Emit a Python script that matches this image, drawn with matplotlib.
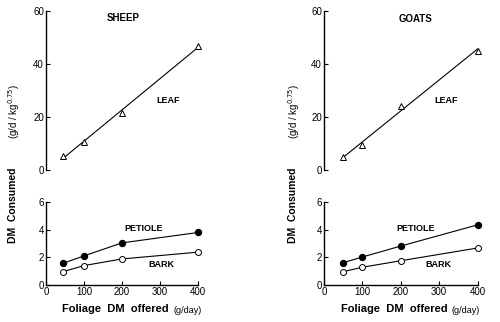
import numpy as np
import matplotlib
matplotlib.use("Agg")
import matplotlib.pyplot as plt

plt.rcParams['font.family'] = ['Liberation Sans', 'DejaVu Sans']

# foliage offered (g/day)
sheep_x = [45, 100, 200, 400]
goat_x = [50, 100, 200, 400]

# DM consumed (g/d / kg^0.75)
sheep_leaf = [5.3, 10.6, 21.5, 46.8]
sheep_petiole = [1.57, 2.1, 3.04, 3.79]
sheep_bark = [0.96, 1.4, 1.88, 2.37]

goat_leaf = [4.8, 9.3, 24.2, 45.0]
goat_petiole = [1.61, 2.02, 2.81, 4.34]
goat_bark = [0.96, 1.28, 1.75, 2.67]

fig = plt.figure(figsize=(5, 3.22), dpi=100)


def style_axis(ax, bottom_spine):
    ax.spines['top'].set_visible(False)
    ax.spines['right'].set_visible(False)
    ax.spines['bottom'].set_visible(bottom_spine)
    for s in ax.spines.values():
        s.set_linewidth(1.0)
    ax.tick_params(direction='in', length=3, width=0.8, labelsize=7, pad=1.5)
    ax.set_xlim(0, 400)


def draw_panel(left, width, x, leaf, petiole, bark, title, lbl):
    top = fig.add_axes([left, 0.472, width, 0.494])
    bot = fig.add_axes([left, 0.115, width, 0.258])

    style_axis(top, False)
    top.set_ylim(0, 60)
    top.set_yticks([0, 20, 40, 60])
    top.set_xticks([])
    coef = np.polyfit(x, leaf, 1)
    xs = np.array([x[0], x[-1]])
    top.plot(xs, np.polyval(coef, xs), color='black', lw=0.8)
    top.plot(x, leaf, ls='none', marker='^', ms=4.5, mfc='white', mec='black',
             mew=0.7, clip_on=False)
    top.text(title[1], title[2], title[0], fontsize=7, fontweight='bold',
             ha='center', va='center')
    top.text(lbl[0], 26.4, 'LEAF', fontsize=6.5, fontweight='bold',
             ha='center', va='center')

    style_axis(bot, True)
    bot.set_ylim(0, 6)
    bot.set_yticks([0, 2, 4, 6])
    bot.set_xticks([0, 100, 200, 300, 400])
    bot.plot(x, petiole, color='black', lw=0.8, marker='o', ms=4.3,
             mfc='black', mec='black', clip_on=False)
    bot.plot(x, bark, color='black', lw=0.8, marker='o', ms=4.3,
             mfc='white', mec='black', mew=0.7, clip_on=False)
    bot.text(lbl[1], 4.05, 'PETIOLE', fontsize=6.5, fontweight='bold',
             ha='center', va='center')
    bot.text(lbl[2], 1.45, 'BARK', fontsize=6.5, fontweight='bold',
             ha='center', va='center')
    return top, bot


draw_panel(0.092, 0.304, sheep_x, sheep_leaf, sheep_petiole, sheep_bark,
           ('SHEEP', 203, 57.4), (321, 258, 303))
draw_panel(0.648, 0.307, goat_x, goat_leaf, goat_petiole, goat_bark,
           ('GOATS', 239, 57.1), (317, 239, 298))

# axis titles
for xl, xb, xp in [(0.026, 0.338, 0.346), (0.586, 0.896, 0.904)]:
    fig.text(xl, 0.363, 'DM  Consumed', rotation=90, fontsize=7.5,
             fontweight='bold', ha='center', va='center')
    fig.text(xl + 0.002, 0.655, r'(g/d / kg$^{0.75}$)', rotation=90,
             fontsize=7, ha='center', va='center')
    fig.text(xb, 0.04, 'Foliage  DM  offered', fontsize=8,
             fontweight='bold', ha='right', va='center')
    fig.text(xp, 0.035, '(g/day)', fontsize=6.5, ha='left', va='center')

fig.savefig('out.png', dpi=100)
